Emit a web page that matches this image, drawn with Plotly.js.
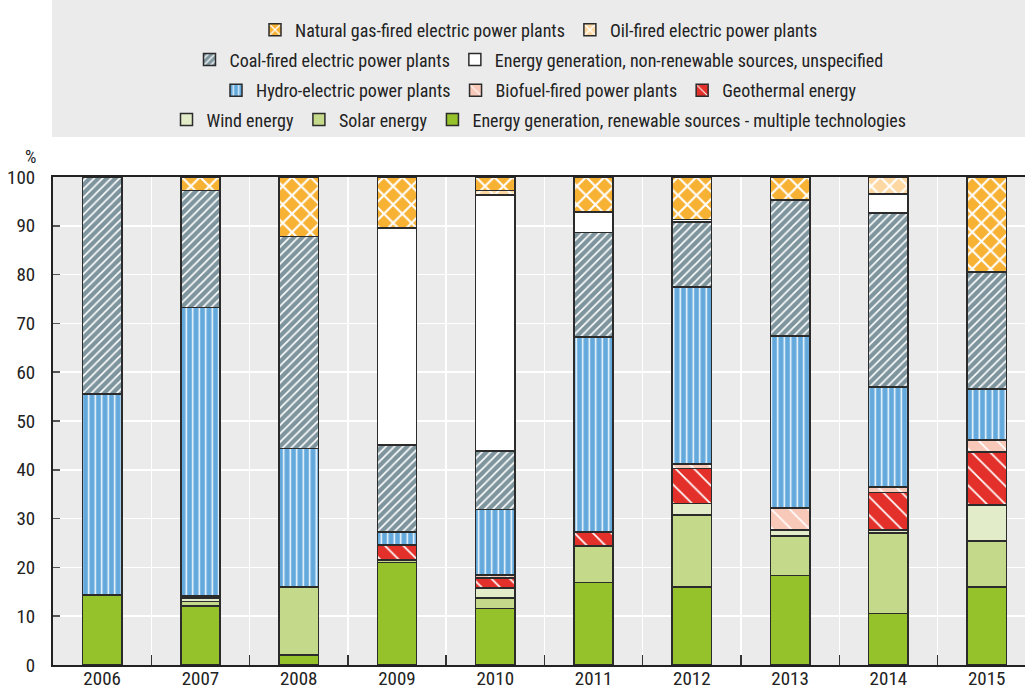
<!DOCTYPE html>
<html>
<head>
<meta charset="utf-8">
<script src="https://cdn.plot.ly/plotly-3.0.1.min.js"></script>
<style>
html,body{margin:0;padding:0;background:#fff;}
#chart{width:1025px;height:689px;}
</style>
</head>
<body>
<div id="chart"></div>
<script>
var years = ['2006','2007','2008','2009','2010','2011','2012','2013','2014','2015'];

var renewableMulti = [14.3, 12.1, 2.0, 21.0, 11.6, 16.9, 16.0, 18.3, 10.6, 16.0];
var solar          = [0, 0.9, 14.0, 0.5, 2.1, 7.5, 14.7, 8.1, 16.5, 9.4];
var wind           = [0, 0.7, 0, 0, 2.1, 0, 2.4, 1.3, 0.6, 7.4];
var geothermal     = [0, 0, 0, 3.1, 2.0, 2.9, 7.2, 0, 7.7, 10.8];
var biofuel        = [0, 0.4, 0, 0, 0.6, 0, 0.9, 4.5, 1.1, 2.5];
var hydro          = [41.2, 59.2, 28.4, 2.7, 13.5, 39.9, 36.3, 35.2, 20.5, 10.5];
var coal           = [44.5, 23.9, 43.4, 17.8, 12.0, 21.4, 13.3, 27.9, 35.6, 23.9];
var nonRenewable   = [0, 0, 0, 44.4, 52.4, 4.2, 0.5, 0, 3.9, 0];
var oil            = [0, 0, 0, 0, 0.9, 0, 0, 0, 3.5, 0];
var gas            = [0, 2.8, 12.2, 10.5, 2.8, 7.2, 8.7, 4.7, 0, 19.5];

var FONT = '"Liberation Sans Narrow", "Arial Narrow", "Roboto Condensed", Roboto, sans-serif';
var LINE = {color: '#2b2b2b', width: 1.5};

function bar(name, vals, color, legend, pattern) {
  var m = {color: color, line: LINE};
  if (pattern) {
    m.pattern = Object.assign({fgcolor: '#ffffff', bgcolor: color, fillmode: 'replace'}, pattern);
  }
  return {type: 'bar', name: name, x: years, y: vals, width: 0.4, marker: m,
          legend: legend, hoverinfo: 'name+y'};
}

var traces = [
  bar('Energy generation, renewable sources - multiple technologies', renewableMulti, '#95c12b', 'legend4'),
  bar('Solar energy', solar, '#c5d98a', 'legend4'),
  bar('Wind energy', wind, '#e2ecc8', 'legend4'),
  bar('Geothermal energy', geothermal, '#e3302a', 'legend3', {shape: '\\', size: 13, solidity: 0.13}),
  bar('Biofuel-fired power plants', biofuel, '#f8c8b8', 'legend3', {shape: '\\', size: 13, solidity: 0.13}),
  bar('Hydro-electric power plants', hydro, '#64a9dc', 'legend3', {shape: '|', size: 6.5, solidity: 0.22}),
  bar('Coal-fired electric power plants', coal, '#7f959e', 'legend2', {shape: '/', size: 6, solidity: 0.26}),
  bar('Energy generation, non-renewable sources, unspecified', nonRenewable, '#ffffff', 'legend2'),
  bar('Oil-fired electric power plants', oil, '#fdd8a3', 'legend', {shape: 'x', size: 13, solidity: 0.3}),
  bar('Natural gas-fired electric power plants', gas, '#f7b133', 'legend', {shape: 'x', size: 13, solidity: 0.3})
];

function leg(y, order) {
  return {orientation: 'h', x: 0.5, xanchor: 'center', y: y, yanchor: 'middle',
          bgcolor: 'rgba(0,0,0,0)', borderwidth: 0, traceorder: order,
          font: {family: FONT, size: 18, color: '#222'}};
}

var layout = {
  width: 1025, height: 689,
  margin: {l: 53, r: 0, t: 177, b: 24, pad: 0},
  paper_bgcolor: '#ffffff',
  plot_bgcolor: '#ebebeb',
  barmode: 'stack',
  font: {family: FONT, size: 19, color: '#222'},
  showlegend: true,
  legend: leg(1.301, 'reversed'),
  legend2: leg(1.240, 'normal'),
  legend3: leg(1.177, 'reversed'),
  legend4: leg(1.117, 'reversed'),
  xaxis: {
    type: 'category', range: [-0.5, 9.39],
    tickson: 'boundaries', ticks: 'inside', ticklen: 10, tickwidth: 1.5, tickcolor: '#333',
    showgrid: true, gridcolor: '#ffffff', gridwidth: 1.5,
    showline: true, linecolor: '#222', linewidth: 2, mirror: true,
    ticklabelstandoff: -5,
    tickfont: {family: FONT, size: 19, color: '#222'}
  },
  yaxis: {
    range: [0, 100], dtick: 10, tick0: 0,
    ticks: 'inside', ticklen: 7, tickwidth: 1.5, tickcolor: '#555',
    showgrid: true, gridcolor: '#ffffff', gridwidth: 1.5, zeroline: false,
    showline: true, linecolor: '#222', linewidth: 2,
    ticklabelstandoff: 12,
    tickfont: {family: FONT, size: 19, color: '#222'}
  },
  shapes: [{
    type: 'rect', xref: 'paper', yref: 'paper', layer: 'below',
    x0: -0.001, x1: 1.01, y0: (665 - 137) / 488, y1: 665 / 488 + 0.01,
    fillcolor: '#ebebeb', line: {width: 0}
  }],
  annotations: [{
    text: '%', xref: 'paper', yref: 'paper', x: -0.015, y: 1.041,
    xanchor: 'right', yanchor: 'middle', showarrow: false,
    font: {family: FONT, size: 18, color: '#222'}
  }]
};

Plotly.newPlot('chart', traces, layout, {displayModeBar: false, staticPlot: true});
</script>
</body>
</html>
